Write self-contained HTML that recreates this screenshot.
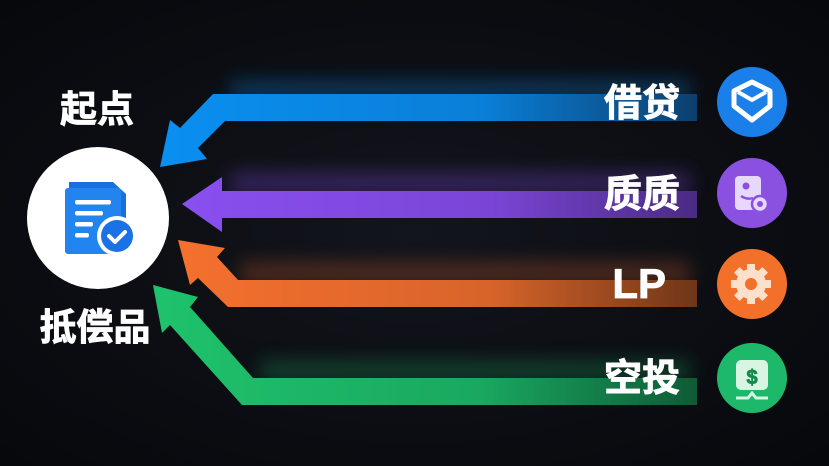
<!DOCTYPE html>
<html><head><meta charset="utf-8"><style>
html,body{margin:0;padding:0;background:#0b0d12;}
svg{display:block}
text{font-family:"Liberation Sans","Noto Sans CJK SC",sans-serif;font-weight:bold;fill:#fff;stroke:#fff;stroke-width:0.8}
</style></head><body>
<svg width="829" height="466" viewBox="0 0 829 466" xmlns="http://www.w3.org/2000/svg">
<defs>
<radialGradient id="bg" cx="50%" cy="50%" r="70%"><stop offset="0" stop-color="#12151c"/><stop offset="1" stop-color="#07080c"/></radialGradient>
<linearGradient id="gb" x1="0" x2="1"><stop offset="0" stop-color="#0a8ff0"/><stop offset="0.6" stop-color="#0a7fd8"/><stop offset="1" stop-color="#0c3f6e"/></linearGradient>
<linearGradient id="gp" x1="0" x2="1"><stop offset="0" stop-color="#8a4ff0"/><stop offset="0.6" stop-color="#7a45d6"/><stop offset="1" stop-color="#4a2b82"/></linearGradient>
<linearGradient id="go" x1="0" x2="1"><stop offset="0" stop-color="#f4702e"/><stop offset="0.6" stop-color="#d8642a"/><stop offset="1" stop-color="#6e3618"/></linearGradient>
<linearGradient id="gg" x1="0" x2="1"><stop offset="0" stop-color="#1fc26c"/><stop offset="0.6" stop-color="#1aa860"/><stop offset="1" stop-color="#0f5a36"/></linearGradient>
<filter id="blur" x="-20%" y="-100%" width="140%" height="300%"><feGaussianBlur stdDeviation="9"/></filter>
</defs>
<rect width="829" height="466" fill="url(#bg)"/>
<rect x="230" y="80" width="460" height="20" fill="#0a7fd8" opacity="0.35" filter="url(#blur)"/>
<rect x="230" y="172" width="460" height="22" fill="#7a45d6" opacity="0.35" filter="url(#blur)"/>
<rect x="240" y="262" width="450" height="22" fill="#d8642a" opacity="0.3" filter="url(#blur)"/>
<rect x="260" y="360" width="430" height="22" fill="#1aa860" opacity="0.3" filter="url(#blur)"/>
<polygon fill="url(#gb)" points="697,94 213,94 180,128 170,120 160,167 207,159 198,148 225,121 697,121"/>
<polygon fill="url(#gp)" points="697,191 222,191 222,177 182,204 222,232 222,218 697,218"/>
<polygon fill="url(#go)" points="697,280 238,280 217,257 225,248 178,240 190,285 198,278 228,307 697,307"/>
<polygon fill="url(#gg)" points="697,378 253,378 190,307 198,297 153,285 162,333 170,325 242,405 697,405"/>
<circle cx="98" cy="218" r="71" fill="#fff"/>
<path d="M69,182 h44 l13,12 v58 h-57z" fill="#1a6fe0"/>
<rect x="65" y="188" width="56" height="66" rx="3" fill="#2285ef"/>
<rect x="75" y="200" width="36" height="4.5" rx="2" fill="#fff"/>
<rect x="75" y="211" width="28" height="4.5" rx="2" fill="#fff"/>
<rect x="75" y="222" width="18" height="4.5" rx="2" fill="#fff"/>
<rect x="75" y="233" width="14" height="4.5" rx="2" fill="#fff"/>
<circle cx="117" cy="236" r="20" fill="#fff"/>
<circle cx="117" cy="236" r="16" fill="#1a72e6"/>
<path d="M109,236 l6,6 l10,-10" stroke="#fff" stroke-width="4" fill="none" stroke-linecap="round" stroke-linejoin="round" style="stroke-width:4"/>
<text x="97" y="122" font-size="37" text-anchor="middle">起点</text>
<text x="95" y="340" font-size="37" text-anchor="middle">抵偿品</text>
<text x="680" y="116" font-size="38" text-anchor="end">借贷</text>
<text x="680" y="207" font-size="38" text-anchor="end">质质</text>
<text x="666" y="298" font-size="42" text-anchor="end">LP</text>
<text x="680" y="391" font-size="38" text-anchor="end">空投</text>
<circle cx="752" cy="102" r="35" fill="#1a7fe8"/>
<path d="M752,82 l18,9 v15 l-18,14 l-18,-14 v-15z" fill="none" stroke="#fff" stroke-width="5" stroke-linejoin="round"/>
<path d="M738,92 l14,8 l14,-8" fill="none" stroke="#fff" stroke-width="4"/>
<circle cx="752" cy="193" r="35" fill="#8a50e0"/>
<rect x="735" y="176" width="26" height="34" rx="4" fill="#e6d8fb"/>
<circle cx="746" cy="186" r="3.5" fill="#8a50e0"/>
<path d="M741,196 q6,4 12,2" stroke="#8a50e0" stroke-width="2.5" fill="none"/>
<circle cx="760" cy="204" r="8" fill="#e6d8fb" stroke="#8a50e0" stroke-width="2.5"/>
<circle cx="760" cy="204" r="3" fill="#8a50e0"/>
<circle cx="752" cy="284" r="35" fill="#f2702a"/>
<circle cx="751" cy="284" r="15" fill="#fde0cc"/>
<g fill="#fde0cc"><rect x="747" y="264" width="8" height="40"/><rect x="731" y="280" width="40" height="8"/><rect x="747" y="264" width="8" height="40" transform="rotate(45 751 284)"/><rect x="747" y="264" width="8" height="40" transform="rotate(-45 751 284)"/></g>
<circle cx="751" cy="284" r="6" fill="#f2702a"/>
<circle cx="752" cy="378" r="35" fill="#1eb86a"/>
<rect x="736" y="360" width="32" height="30" rx="5" fill="#d7f5e2"/>
<path d="M736,398 h12 l4,-5 l4,5 h12" stroke="#d7f5e2" stroke-width="3" fill="none"/>
<text x="752" y="384" font-size="20" text-anchor="middle" style="fill:#158a4e;stroke:#158a4e">$</text>
</svg>
</body></html>
